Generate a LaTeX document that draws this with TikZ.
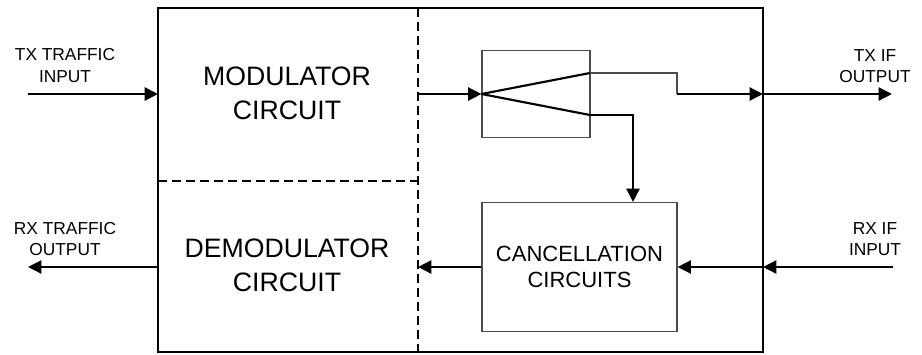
\documentclass[tikz,border=0pt]{standalone}
\usepackage{fontspec}
\setmainfont{Liberation Sans}
\usetikzlibrary{arrows.meta, positioning}

\begin{document}
\begin{tikzpicture}[x=0.75pt, y=-0.75pt,
    sig/.style={line width=1.6pt, -{Triangle[length=10pt, width=9.8pt]}},
    wire/.style={line width=1.6pt},
    thinwire/.style={line width=0.8pt, draw=black!70},
    blockbox/.style={draw=black!70, line width=0.8pt, inner sep=0pt},
    bigtext/.style={align=center, font=\fontsize{20}{25.5}\selectfont},
    midtext/.style={align=center, font=\fontsize{16.5}{19.5}\selectfont},
    smalltext/.style={align=center, font=\fontsize{13}{15.8}\selectfont}]

    % Fix the page size
    \useasboundingbox (0,0) rectangle (922,354);

    % Corners of the outer frame
    \coordinate (F_nw) at (158,8);
    \coordinate (F_se) at (763,352);

    % Outer frame and the dashed split lines
    \draw[line width=1.6pt] (F_nw) rectangle (F_se);
    \draw[line width=1.6pt, dash pattern=on 7pt off 3.5pt] (418,8) -- (418,352);
    \draw[line width=1.6pt, dash pattern=on 7pt off 3.5pt] (158,181) -- (418,181);

    % Inner blocks
    \node[blockbox, minimum width=81pt, minimum height=65.25pt] (split) at (536,94) {};
    \node[blockbox, minimum width=146.25pt, minimum height=96.75pt] (cancel) at (579.5,267) {};
    \node[midtext] at (cancel) {CANCELLATION\\CIRCUITS};

    \node[bigtext] (mod) at (287,93) {MODULATOR\\CIRCUIT};
    \node[bigtext] (demod) at (287,265) {DEMODULATOR\\CIRCUIT};

    % Ends of the outside connectors
    \coordinate (txin) at (28,94);
    \coordinate (rxout) at (28,267);
    \coordinate (txout) at (892,94);
    \coordinate (rxin) at (893,267);

    % Points on the frame and splitter
    \coordinate (F_txin) at (158,94);
    \coordinate (F_rxout) at (158,267);
    \coordinate (F_txout) at (763,94);
    \coordinate (F_rxin) at (763,267);
    \coordinate (D_tx) at (418,94);
    \coordinate (D_rx) at (418,267);
    \coordinate (S_up) at (590,73);
    \coordinate (S_lo) at (590,115);
    \coordinate (S_out) at (677,94);
    \coordinate (C_in) at (633,202);

    % Outside labels
    \node[smalltext] at (65,65.5) {TX TRAFFIC\\INPUT};
    \node[smalltext] at (65,239) {RX TRAFFIC\\OUTPUT};
    \node[smalltext] at (875,66) {TX IF\\OUTPUT};
    \node[smalltext] at (875,239) {RX IF\\INPUT};

    % TX path
    \draw[sig] (txin) -- (F_txin);
    \draw[sig] (D_tx) -- (split.west);
    \draw[wire] (split.west) -- (S_up);
    \draw[wire] (split.west) -- (S_lo);
    \draw[thinwire] (S_up) -| (S_out);
    \draw[sig] (S_out) -- (F_txout);
    \draw[sig] (F_txout) -- (txout);
    \draw[sig] (S_lo) -| (C_in);

    % RX path
    \draw[sig] (rxin) -- (F_rxin);
    \draw[sig] (F_rxin) -- (cancel.east);
    \draw[sig] (cancel.west) -- (D_rx);
    \draw[sig] (F_rxout) -- (rxout);
\end{tikzpicture}
\end{document}
